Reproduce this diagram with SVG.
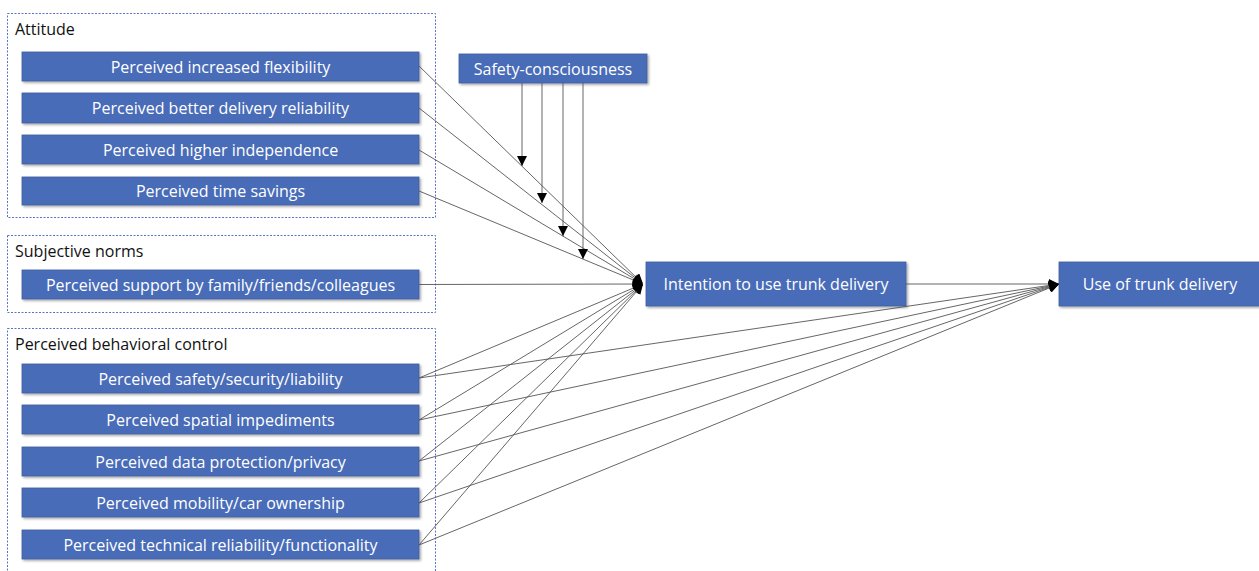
<svg xmlns="http://www.w3.org/2000/svg" width="1259" height="571" viewBox="0 0 1259 571">
<style>
.grp{fill:none;stroke:#5676c4;stroke-width:1;stroke-dasharray:2 1.5}
.box{fill:#4a6cb8;stroke:#3d5c9e;stroke-width:0.8;filter:url(#sh)}
.bt{fill:#fff;font-family:"Open Sans","Noto Sans",sans-serif;font-size:16px;text-anchor:middle;dominant-baseline:central}
.gl{fill:#111;font-family:"Open Sans","Noto Sans",sans-serif;font-size:16px}
.ln{stroke:#555;stroke-width:0.9;fill:none;marker-end:url(#arr)}
</style>
<defs>
<filter id="sh" x="-5%" y="-20%" width="110%" height="150%">
<feDropShadow dx="1.5" dy="1.5" stdDeviation="1" flood-color="#000" flood-opacity="0.35"/>
</filter>
<marker id="arr" viewBox="0 0 10 10" refX="10" refY="5" markerWidth="11" markerHeight="10" markerUnits="userSpaceOnUse" orient="auto">
<path d="M0,0 L10,5 L0,10 z" fill="#000"/>
</marker>
</defs>
<rect width="1259" height="571" fill="#fff"/>

<g id="attitude">
<rect class="grp" x="7.5" y="13.5" width="428" height="204"/>
<text class="gl" x="15" y="35">Attitude</text>
</g>
<g id="a1"><rect class="box" x="22" y="52" width="397" height="29"/><text class="bt" x="220.5" y="66.5">Perceived increased flexibility</text></g>
<g id="a2"><rect class="box" x="22" y="93" width="397" height="30"/><text class="bt" x="220.5" y="108">Perceived better delivery reliability</text></g>
<g id="a3"><rect class="box" x="22" y="135" width="397" height="29"/><text class="bt" x="220.5" y="149.5">Perceived higher independence</text></g>
<g id="a4"><rect class="box" x="22" y="177" width="397" height="28"/><text class="bt" x="220.5" y="191">Perceived time savings</text></g>

<g id="subjective">
<rect class="grp" x="7.5" y="235.5" width="428" height="77"/>
<text class="gl" x="15" y="257">Subjective norms</text>
</g>
<g id="s1"><rect class="box" x="22" y="270" width="397" height="29"/><text class="bt" x="220.5" y="284.5">Perceived support by family/friends/colleagues</text></g>

<g id="pbc">
<rect class="grp" x="7.5" y="328.5" width="428" height="260"/>
<text class="gl" x="15" y="350">Perceived behavioral control</text>
</g>
<g id="p1"><rect class="box" x="22" y="364" width="397" height="29"/><text class="bt" x="220.5" y="378.5">Perceived safety/security/liability</text></g>
<g id="p2"><rect class="box" x="22" y="405" width="397" height="29"/><text class="bt" x="220.5" y="419.5">Perceived spatial impediments</text></g>
<g id="p3"><rect class="box" x="22" y="447" width="397" height="29"/><text class="bt" x="220.5" y="461.5">Perceived data protection/privacy</text></g>
<g id="p4"><rect class="box" x="22" y="488" width="397" height="29"/><text class="bt" x="220.5" y="502.5">Perceived mobility/car ownership</text></g>
<g id="p5"><rect class="box" x="22" y="530" width="397" height="29"/><text class="bt" x="220.5" y="544.5">Perceived technical reliability/functionality</text></g>

<g id="safety"><rect class="box" x="459" y="54" width="188" height="29"/><text class="bt" x="553" y="68.5">Safety-consciousness</text></g>
<g id="intention"><rect class="box" x="646" y="262" width="260" height="44"/><text class="bt" x="776" y="284">Intention to use trunk delivery</text></g>
<g id="use"><rect class="box" x="1059" y="262" width="210" height="44"/><text class="bt" x="1160" y="284">Use of trunk delivery</text></g>

<g id="connectors">
<line class="ln" x1="419" y1="66" x2="643" y2="284"/>
<line class="ln" x1="419" y1="108" x2="643" y2="284"/>
<line class="ln" x1="419" y1="150" x2="643" y2="284"/>
<line class="ln" x1="419" y1="191" x2="643" y2="284"/>
<line class="ln" x1="419" y1="284.5" x2="643" y2="284"/>
<line class="ln" x1="419" y1="378" x2="643" y2="284"/>
<line class="ln" x1="419" y1="420" x2="643" y2="284"/>
<line class="ln" x1="419" y1="461" x2="643" y2="284"/>
<line class="ln" x1="419" y1="503" x2="643" y2="284"/>
<line class="ln" x1="419" y1="545" x2="643" y2="284"/>
<line class="ln" x1="906" y1="284" x2="1059" y2="284"/>
<line class="ln" x1="419" y1="378" x2="1059" y2="284"/>
<line class="ln" x1="419" y1="420" x2="1059" y2="284"/>
<line class="ln" x1="419" y1="461" x2="1059" y2="284"/>
<line class="ln" x1="419" y1="503" x2="1059" y2="284"/>
<line class="ln" x1="419" y1="545" x2="1059" y2="284"/>
<line class="ln" x1="522" y1="83" x2="522" y2="166"/>
<line class="ln" x1="542" y1="83" x2="542" y2="203"/>
<line class="ln" x1="563" y1="83" x2="563" y2="236"/>
<line class="ln" x1="583" y1="83" x2="583" y2="259"/>
</g>
</svg>
